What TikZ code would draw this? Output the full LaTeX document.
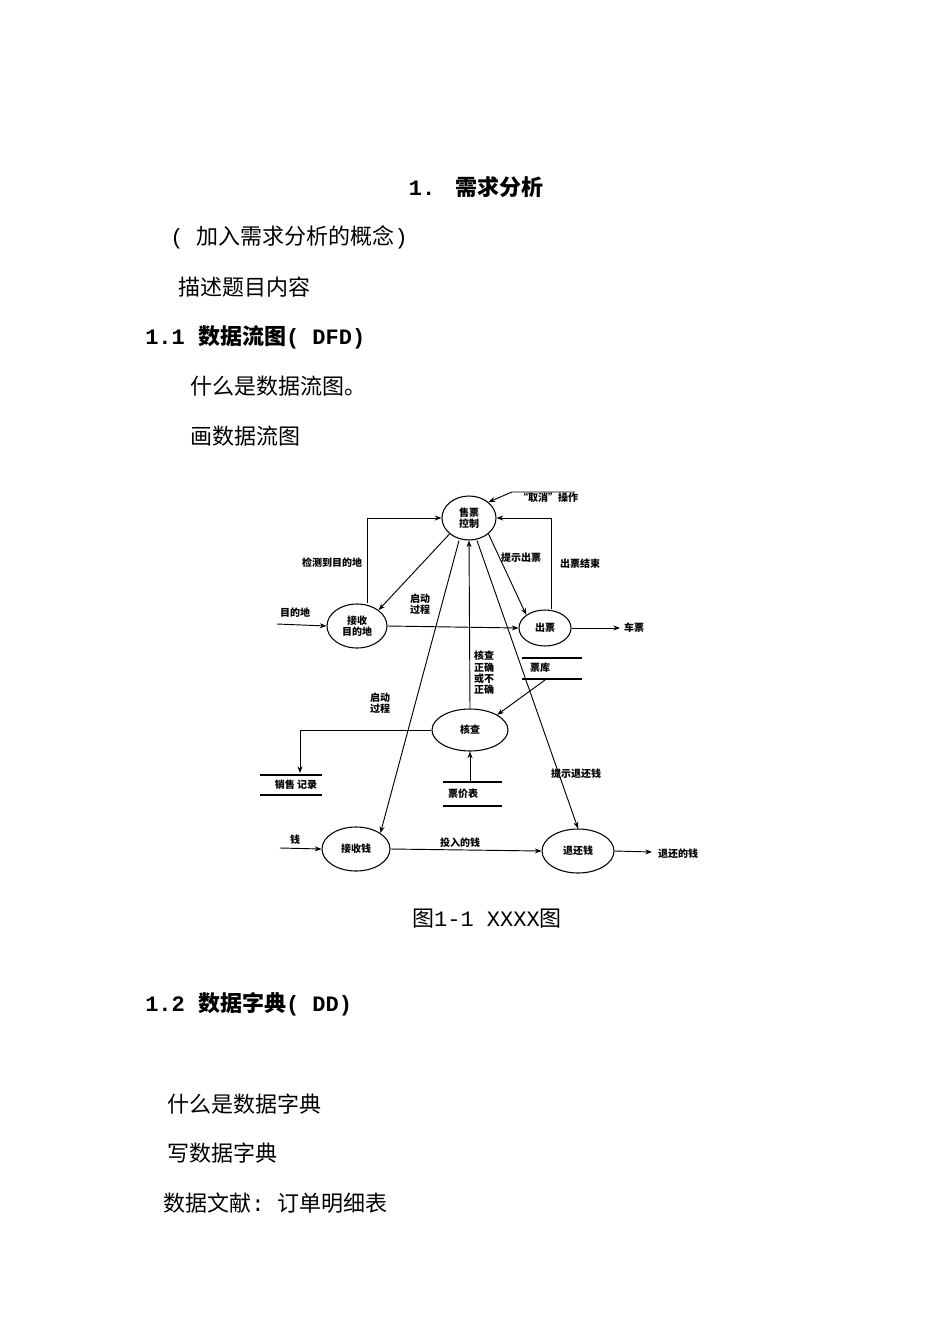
\documentclass[tikz,border=0pt]{standalone}
\usepackage{fontspec}
\setmainfont{Noto Sans CJK SC}
\setmonofont{Liberation Mono}
\newcommand\mt[1]{{\ttfamily #1}}
\usetikzlibrary{shapes.geometric,arrows.meta}
\begin{document}
\begin{tikzpicture}[x=0.75pt,y=-0.75pt,
  body/.style={anchor=west,inner sep=0,font=\fontsize{16.5}{16.5}\selectfont},
  head/.style={anchor=west,inner sep=0,font=\fontsize{16.5}{16.5}\selectfont\bfseries},
  proc/.style={ellipse,draw,line width=0.8pt,inner sep=0,font=\fontsize{7.5}{8.5}\selectfont\bfseries,align=center},
  lab/.style={inner sep=0,font=\fontsize{7.5}{8.5}\selectfont\bfseries,align=center},
  fl/.style={line width=0.7pt,-{Stealth[length=5pt]}},
  st/.style={line width=1.2pt}]
\useasboundingbox (0,0) rectangle (950,1344);
\node[inner sep=0,font=\fontsize{16.5}{16.5}\selectfont\bfseries] (t) at (476,187) {\mt{1.\ } 需求分析};
\node[body] (a1) at (170,237) {\mt{( }加入需求分析的概念\mt{)}};
\node[body] (a2) at (178,287) {描述题目内容};
\node[head] (h1) at (145,337) {\mt{\bfseries 1.1 }数据流图\mt{\bfseries ( DFD)}};
\node[body] (a3) at (190,386) {什么是数据流图。};
\node[body] (a4) at (190,436) {画数据流图};
\node[inner sep=0,font=\fontsize{16.5}{16.5}\selectfont] (cap) at (487,919) {图\mt{1-1 XXXX}图};
\node[head] (h2) at (145,1004) {\mt{\bfseries 1.2 }数据字典\mt{\bfseries ( DD)}};
\node[body] (b1) at (167,1104) {什么是数据字典};
\node[body] (b2) at (167,1153) {写数据字典};
\node[body] (b3) at (163,1203) {数据文献\mt{: }订单明细表};

% processes
\node[proc,minimum width=54pt*0.75,minimum height=44pt*0.75] (sp) at (469,518) {售票\\控制};
\node[proc,minimum width=60pt*0.75,minimum height=44pt*0.75] (jm) at (357,626) {接收\\目的地};
\node[proc,minimum width=52pt*0.75,minimum height=36pt*0.75] (cp) at (545,628) {出票};
\node[proc,minimum width=76pt*0.75,minimum height=42pt*0.75] (hc) at (470,730) {核查};
\node[proc,minimum width=68pt*0.75,minimum height=44pt*0.75] (jq) at (356,849) {接收钱};
\node[proc,minimum width=72pt*0.75,minimum height=44pt*0.75] (tq) at (578,851) {退还钱};

% stores
\draw[st] (522,658) -- (582,658) (522,679) -- (582,679);
\node[lab] (pk) at (540,668) {票库};
\draw[st] (260,775) -- (322,775) (260,795) -- (322,795);
\node[lab] (xs) at (296,785) {销售\ 记录};
\draw[st] (443,782) -- (502,782) (443,806) -- (502,806);
\node[lab] (pj) at (463,794) {票价表};

% externals / labels
\node[lab] (qx) at (548,498) {“取消”操作};
\node[lab] (mdd) at (295,613) {目的地};
\node[lab] (cpv) at (634,628) {车票};
\node[lab] (qian) at (295,840) {钱};
\node[lab] (thq) at (678,854) {退还的钱};
\coordinate (qs) at (575,492);
\coordinate (mi) at (277,624);
\coordinate (qi) at (280,848);

\draw[fl] (qs) -- (512,492) -- (sp.north east);
\draw[fl] (jm.north) ++(10,0) |- (sp.west);
\node[lab] at (332,563) {检测到目的地};
\draw[fl] (sp.south west) -- (jm.north east);
\node[lab] at (420,604) {启动\\过程};
\draw[fl] (jm.east) -- (cp.west);
\draw[fl] (cp.east) -- (620,628);
\draw[fl] (mi) -- (jm.west);
\draw[fl] (sp.south east) -- (cp.north west);
\node[lab] at (521,558) {提示出票};
\draw[fl] (cp.north) ++(6,0) |- (sp.east);
\node[lab] at (580,564) {出票结束};
\draw[fl] (sp.south) ++(-10,0) -- (jq.north east);
\draw[fl] (hc.north) -- (sp.south);
\node[lab] at (484,673) {核查\\正确\\或不\\正确};
\draw[fl] (sp.south) ++(8,0) -- (tq.north);
\node[lab] at (576,774) {提示退还钱};
\draw[fl] (545,680) -- (hc.north east);
\draw[fl] (hc.west) -| (300,773);
\node[lab] at (380,703) {启动\\过程};
\draw[fl] (470,782) -- (hc.south);
\draw[fl] (qi) -- (jq.west);
\draw[fl] (jq.east) -- (tq.west);
\node[lab] at (460,843) {投入的钱};
\draw[fl] (tq.east) -- (652,852);
\end{tikzpicture}
\end{document}
